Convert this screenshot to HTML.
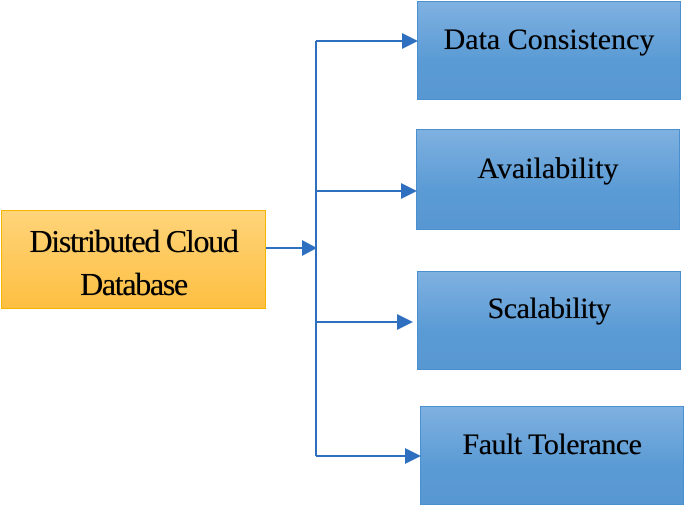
<!DOCTYPE html>
<html><head><style>
body{margin:0;width:685px;height:506px;background:#fff;position:relative;overflow:hidden;font-family:"Liberation Serif",serif;}
.b{position:absolute;box-sizing:border-box;border:1.5px solid #4a8fcf;background:linear-gradient(#7fb1e0,#5b9bd5 60%,#5897d2);color:#000;font-size:30px;text-align:center;text-shadow:0 0 0.5px #000;}
.b span{position:absolute;left:0;right:0;}
.o{position:absolute;box-sizing:border-box;border:1.5px solid #f5b400;background:linear-gradient(#ffd47a,#fdbf42);font-size:32px;text-align:center;line-height:43px;letter-spacing:-1.3px;text-shadow:0 0 0.5px #000;}
</style></head><body>
<div class="o" style="left:1px;top:210px;width:265px;height:99px;padding-top:9px">Distributed Cloud<br>Database</div>
<div class="b" style="left:417px;top:1px;width:264px;height:99px"><span style="top:21px">Data Consistency</span></div>
<div class="b" style="left:416px;top:129px;width:264px;height:101px"><span style="top:22px">Availability</span></div>
<div class="b" style="left:417px;top:271px;width:264px;height:99px"><span style="top:20px;letter-spacing:-0.5px">Scalability</span></div>
<div class="b" style="left:420px;top:406px;width:264px;height:99px"><span style="top:21px;letter-spacing:-0.5px">Fault Tolerance</span></div>
<svg width="685" height="506" style="position:absolute;left:0;top:0">
<g stroke="#2e6fbf" stroke-width="2" fill="none">
<path d="M316 41V456"/>
<path d="M266 248H304"/>
<path d="M316 41H404"/>
<path d="M316 191H403"/>
<path d="M316 322H399"/>
<path d="M316 456H407"/>
</g>
<g fill="#2e6fbf">
<path d="M302 240L317 248L302 256Z"/>
<path d="M402 33L418 41L402 49Z"/>
<path d="M401 183L417 191L401 199Z"/>
<path d="M397 314L413 322L397 330Z"/>
<path d="M405 448L421 456L405 464Z"/>
</g>
</svg>
</body></html>
